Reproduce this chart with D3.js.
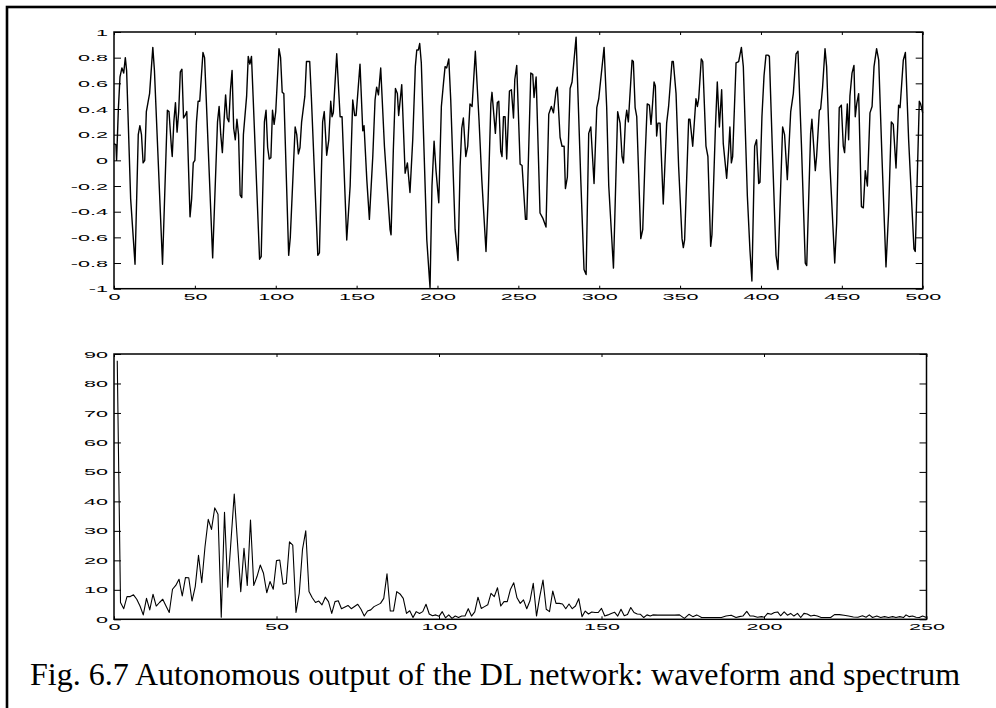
<!DOCTYPE html>
<html>
<head>
<meta charset="utf-8">
<script src="https://cdn.jsdelivr.net/npm/d3@7/dist/d3.min.js"></script>
<style>
  html, body { margin: 0; padding: 0; background: #fff; }
  svg { display: block; }
</style>
</head>
<body>
<svg id="chart" width="996" height="708"></svg>
<script>
// ---------------- DATA ----------------
// Waveform (top panel): sample index and value
const waveIdx = [0,1.2,1.6,2.7,3.7,4.9,6,7,7.8,10.3,13,15,16,17,18,19,20,21,22,24,25,30,33,34,35.5,36,37,38,39,40,41,42,43,44,45,47,48,49,50,51,52,53,55,56,61,64,65,66,67,68,69,70,71,72,73,74,75,76,77,78,79,80,82,83,84,85,86,90,91,93,94,95,96,97,98,99,100,102,103,104,105,108,109,112,113,114,115,116,118,119,121,122,126,127,129,130,131.5,132.8,134,134.8,135.6,137.7,139.8,141,143.9,146,147.6,148.8,149.7,152.1,153.8,154.6,156.3,157.9,160,161.4,162.4,163.5,164.9,167.2,170.7,171.3,172.7,174,175.2,176,177.9,180,181.4,183,184.7,186.3,187.2,188.2,189,190,193.4,195,195.4,196.6,197.9,199.1,200.8,202.4,203.7,204.7,205.7,207,208.2,210.9,212.7,214,215,216,217.5,218.7,220.1,221.4,223.4,225.7,227.4,230,231.3,233,233.7,235.8,237,237.9,239.1,239.9,240.8,241.8,242.8,244.5,245.7,247,247.8,249,251.1,252.3,254.4,255.2,257.7,258.9,259.7,261,263.4,265.1,267.1,268.8,270.4,271.7,273.3,274.1,275.8,277,278.3,279.1,280.3,282,283.2,285.7,288.6,290.6,291.9,293.5,294.8,296.8,298.5,299.7,303,304.6,305.9,308.8,311.4,312.9,314.1,315,316.2,317,318,320.3,321.1,322.2,323.2,325.7,326.9,328.3,329.7,331,332,332.6,333.9,334.7,335.5,336.3,337.6,339.6,341.7,342.9,345,345.8,347.5,349.1,351.2,352,352.8,355.3,356.1,357.8,359.8,360.7,361.5,363.1,364,366,367.2,368.9,369.7,371.8,373,374.3,375.7,376.7,378.8,380,380.8,381.7,382.5,384.6,386.2,387.9,389.1,391.6,393.2,394.4,396.1,397.3,398.6,399.4,400.6,401.9,403.1,404.3,405.2,407.2,409.3,410.5,412.2,413.4,414.6,416.3,418.4,420,421.7,422.9,425,427.4,428.3,430.7,431.5,433.6,434.4,436.1,436.9,438.1,439.6,440.6,442.7,445.6,446.8,448.4,449.7,450.9,451.7,453.4,454.2,455,456.3,457.5,458.3,459.2,460.4,462.1,463.3,464.5,465.8,467.4,468.7,469.9,471.5,472.8,474.8,477.3,478.9,480.6,481.8,483.5,485.1,486,488,489.3,491.3,494.6,495.4,497.9,498.7,500];
const waveVal = [0.13,0.12,0.0,0.4,0.65,0.72,0.68,0.8,0.7,-0.3,-0.81,0.2,0.27,0.2,-0.02,0.0,0.38,0.45,0.52,0.88,0.7,-0.81,0.39,0.38,0.1,0.03,0.3,0.45,0.22,0.38,0.69,0.71,0.33,0.35,0.38,-0.44,-0.3,-0.02,0.0,0.3,0.46,0.46,0.84,0.8,-0.76,0.3,0.42,0.2,0.06,0.3,0.51,0.33,0.3,0.55,0.7,0.25,0.16,0.32,0.2,-0.27,-0.29,0.2,0.5,0.81,0.75,0.81,0.5,-0.77,-0.75,0.3,0.39,0.1,0.01,0.02,0.39,0.28,0.38,0.87,0.8,0.53,0.52,-0.74,-0.6,0.26,0.2,0.05,0.1,0.3,0.5,0.77,0.77,0.5,-0.74,-0.72,0.3,0.38,0.04,0.16,0.46,0.34,0.37,0.83,0.34,0.34,-0.62,-0.2,0.47,0.35,0.35,0.75,0.23,0.27,-0.15,-0.46,0.03,0.47,0.57,0.51,0.72,0.11,-0.54,-0.58,0.08,0.56,0.52,0.35,0.59,-0.1,-0.02,-0.25,0.16,0.73,0.86,0.86,0.91,0.76,-0.62,-0.92,-0.99,-0.2,0.15,-0.08,-0.33,0.42,0.6,0.73,0.72,0.79,0.47,-0.54,-0.78,-0.05,0.25,0.33,0.03,0.11,0.44,0.42,0.85,0.31,-0.15,-0.71,-0.31,0.44,0.53,0.21,0.45,0.46,0.07,0.03,0.34,0.34,0.01,0.54,0.55,0.33,0.63,0.74,-0.03,-0.04,-0.46,-0.46,0.68,0.67,0.49,0.65,-0.41,-0.45,-0.52,0.36,0.42,0.37,0.54,0.57,0.18,0.11,0.11,-0.22,-0.13,0.56,0.61,0.96,-0.15,-0.85,-0.89,0.21,0.26,-0.18,0.41,0.48,0.88,0.42,-0.2,-0.84,0.38,0.29,0.03,-0.02,0.31,0.39,0.3,0.78,0.77,0.41,0.34,-0.61,-0.54,0.0,0.44,0.43,0.28,0.37,0.61,0.58,0.19,0.29,0.29,-0.34,0.29,0.42,0.77,0.77,0.52,-0.05,-0.61,-0.68,-0.62,0.32,0.32,0.11,0.48,0.42,0.48,0.79,0.77,0.11,0.03,-0.67,-0.58,0.24,0.61,0.26,0.55,0.13,-0.14,0.08,0.26,-0.02,0.03,0.76,0.77,0.88,0.73,-0.28,-0.7,-0.94,0.11,0.16,-0.18,-0.17,0.34,0.66,0.82,0.82,0.81,0.03,-0.74,-0.85,-0.2,0.26,0.2,-0.15,0.38,0.52,0.83,0.85,0.13,-0.8,-0.82,0.21,0.32,-0.08,0.03,0.39,0.4,0.57,0.87,0.73,-0.05,-0.8,-0.49,0.41,0.43,0.11,0.06,0.44,0.16,0.5,0.68,0.74,0.34,0.44,0.52,-0.36,-0.37,-0.08,-0.2,0.37,0.42,0.73,0.87,0.78,0.03,-0.83,-0.41,0.3,0.28,-0.06,0.43,0.41,0.78,0.84,0.16,-0.69,-0.71,0.46,0.44,0.37];

// Spectrum (bottom panel): frequency bin and magnitude
const specBin = [1,2,3,4,5,6,7,8,9,10,11,12,13,14,15,16,17,18,19,20,21,22,23,24,25,26,27,28,29,30,31,32,33,34,35,37,39,40,41,42,43,44,45,46,47,48,49,50,51,52,53,54,55,56,57,58,59,60,61,62,63,64,65,66,67,68,69,70,72,73,75,76,77,78,79,80,82,83,84,85,86,87,88,89,90,91,92,93,94,95,96,97,98,99,100,101,102,103,104,105,106,107,108,109,110,111,112,113,114,115,116,117,118,119,120,121,122,123,124,125,126,127,128,129,130,131,132,133,134,135,136,137,138,139,140,141,142,143,144,145,146,147,148,149,150,151,152,153,154,155,156,157,158,159,160,161,162,163,164,165,165.8,167.3,168.9,170.9,172.5,174,175.5,176.9,178.1,179.3,180.8,182.2,184,185.5,186.9,188.3,189.9,191.4,192.4,193.5,194.7,195.7,196.7,198,199.2,200.1,201.1,202.2,203.2,204.2,205.1,206.2,207.2,208.2,209.2,210.3,211.3,212.3,213.3,214.4,215.4,216.4,217.6,219.1,220.5,221.7,223.2,224.6,226,227.5,228.9,230.3,231.4,232.4,233.4,234.7,235.9,237.1,238.3,239.6,240.6,241.8,242.9,243.7,244.7,245.7,246.8,247.8,248.8,250];
const specVal = [87.7,5.7,3.6,7.7,7.7,8.3,6.8,4.5,1.5,7.1,3.2,8.5,4.5,5.7,6.8,4.5,2.3,10.2,11.5,13.6,7.9,14.2,14.1,6.2,11.1,21.7,12.4,24.6,33.9,30.5,37.8,35.6,0.7,36.3,10.9,42.5,9.4,24.1,11.5,33.7,11.5,14.5,18.4,15.6,9,12.8,10.2,19.9,20.1,11.9,12.2,26.3,25.2,2.3,8.8,23.7,30,9.4,7.3,5.7,6.2,4.9,7.5,6,2,6,6.3,3.6,4.7,3.6,5.1,3.4,1.1,2.8,3.2,4.3,5.4,7.1,15.4,2.8,2.8,9.4,8.6,7.1,2,2.9,0.6,2.6,2,2.6,5.1,1.8,1.2,1.5,1,2.6,0.5,1.5,0.3,1.1,0.6,1.1,1.1,3.6,1.1,2.5,7.5,3.7,4.3,4.9,8.8,7.7,10.7,4.5,6,6,10.2,12.4,7.3,5.4,6.6,3.6,6.3,12.2,1.1,7.7,13.3,3.4,2.6,9.6,5.4,5.4,5.2,3.6,5.2,3.6,4.5,7,0.9,2.8,1.8,2.5,2.3,2.3,3.7,1.1,1.5,2,2.4,1.1,3.4,1.2,1.6,4,2.3,1.8,1.7,0.6,1.5,1.1,1.5,1.4,1.4,1.4,1.4,1.5,0.3,1.7,0.9,1.5,0.6,0.6,0.6,0.6,0.6,1.1,1.4,0.6,0.9,1.1,2.7,1.1,1.1,0.7,0.9,0.7,2,1.7,2.3,2.5,1.2,2.5,1.4,2,1.1,2,0.6,2,1.8,1.1,1.4,1.1,0.6,0.6,0.6,1.6,1.6,1.4,1.1,0.8,0.7,1.2,0.7,1.5,0.6,1.1,0.6,0.9,0.6,0.9,0.6,0.9,0.6,1.5,0.9,1.1,0.7,0.6,1.1,0.6];

// Tick values
const waveXTicks = [0,50,100,150,200,250,300,350,400,450,500];
const waveYTicks = [-1,-0.8,-0.6,-0.4,-0.2,0,0.2,0.4,0.6,0.8,1];
const specXTicks = [0,50,100,150,200,250];
const specYTicks = [0,10,20,30,40,50,60,70,80,90];
const caption = "Fig. 6.7 Autonomous output of the DL network: waveform and spectrum";

// ---------------- DRAW ----------------
const svg = d3.select("#chart");
const SX = 2.4; // horizontal stretch of tick labels as in the reference
const TICK_FONT = "'Liberation Sans', Arial, Helvetica, sans-serif";
const fmt = d => String(+d.toFixed(1)).replace("\u2212", "-");

// outer frame (continues past the right and bottom edges)
svg.append("rect")
  .attr("x", 7).attr("y", 7)
  .attr("width", 1100).attr("height", 800)
  .attr("fill", "none").attr("stroke", "#000").attr("stroke-width", 2.6);

function panel(xs, ys, xt, yt, xData, yData, lineW) {
  const [x0, x1] = xs.range();
  const [y1, y0] = ys.range();
  const g = svg.append("g");

  const gl = g.append("g").attr("transform", `translate(${x0},0)`)
    .call(d3.axisLeft(ys).tickValues(yt).tickSize(-7).tickPadding(0).tickFormat(fmt));
  const gb = g.append("g").attr("transform", `translate(0,${y1})`)
    .call(d3.axisBottom(xs).tickValues(xt).tickSize(-3).tickPadding(0).tickFormat(fmt));
  const gr = g.append("g").attr("transform", `translate(${x1},0)`)
    .call(d3.axisRight(ys).tickValues(yt).tickSize(-7).tickFormat(""));
  const gt = g.append("g").attr("transform", `translate(0,${y0})`)
    .call(d3.axisTop(xs).tickValues(xt).tickSize(-3).tickFormat(""));

  [gl, gb, gr, gt].forEach(a => {
    a.select(".domain").remove();
    a.selectAll(".tick line").attr("stroke", "#000").attr("stroke-width", 1);
  });

  gl.selectAll(".tick text")
    .attr("x", -6 / SX).attr("dy", "0.34em")
    .attr("text-anchor", "end")
    .attr("transform", `scale(${SX},1)`)
    .attr("fill", "#000")
    .style("font-family", TICK_FONT).style("font-size", "9px");
  gb.selectAll(".tick text")
    .attr("x", 0).attr("y", 4.5).attr("dy", "0.71em")
    .attr("text-anchor", "middle")
    .attr("transform", `scale(${SX},1)`)
    .attr("fill", "#000")
    .style("font-family", TICK_FONT).style("font-size", "9px");

  const pts = xData.map((d, i) => [d, yData[i]]);
  g.append("path")
    .datum(pts)
    .attr("fill", "none").attr("stroke", "#000")
    .attr("stroke-width", lineW).attr("stroke-linejoin", "round")
    .attr("d", d3.line().x(d => xs(d[0])).y(d => ys(d[1])));

  g.append("rect")
    .attr("x", x0).attr("y", y0)
    .attr("width", x1 - x0).attr("height", y1 - y0)
    .attr("fill", "none").attr("stroke", "#000").attr("stroke-width", 1.5);
}

const xW = d3.scaleLinear().domain([0, 500]).range([114, 922.7]);
const yW = d3.scaleLinear().domain([-1, 1]).range([288.7, 32]);
panel(xW, yW, waveXTicks, waveYTicks, waveIdx, waveVal, 1.4);

const xS = d3.scaleLinear().domain([0, 250]).range([114, 926.5]);
const yS = d3.scaleLinear().domain([0, 90]).range([619.3, 354]);
panel(xS, yS, specXTicks, specYTicks, specBin, specVal, 1.1);

svg.append("text")
  .attr("x", 30).attr("y", 685)
  .attr("fill", "#000")
  .style("font-family", "'Liberation Serif', 'Times New Roman', Times, serif")
  .style("font-size", "32px")
  .text(caption);
</script>
</body>
</html>
